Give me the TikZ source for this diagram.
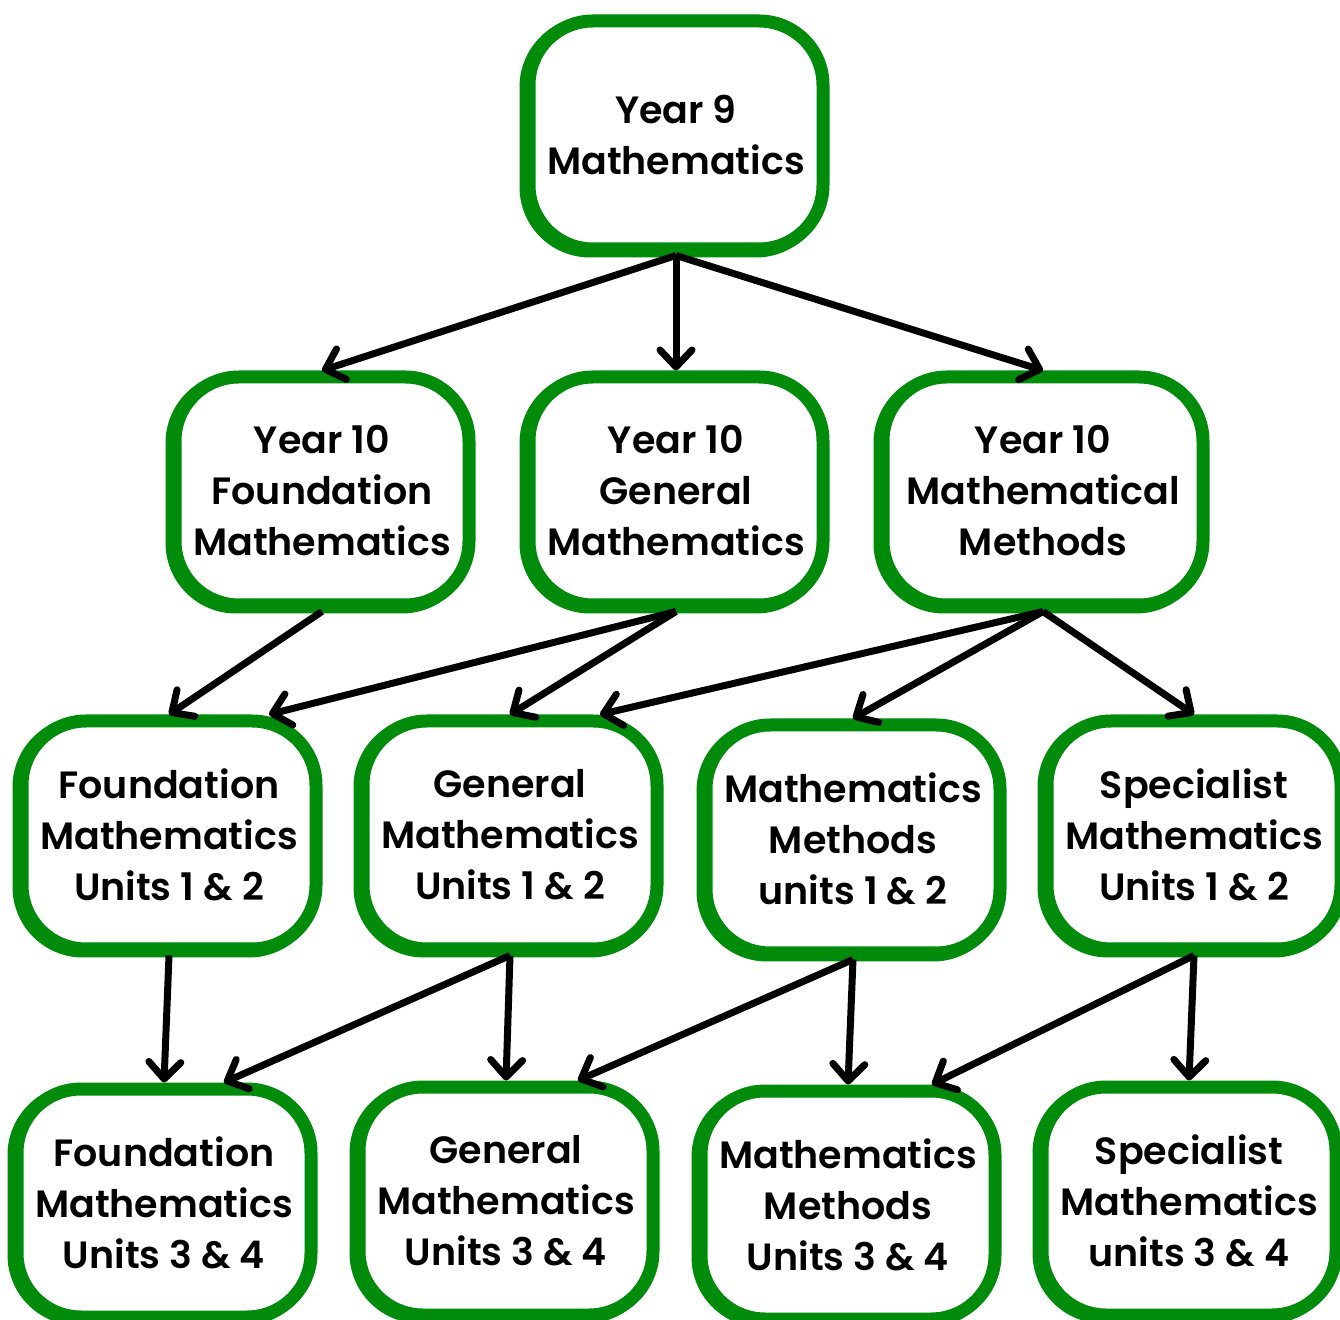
\documentclass[tikz,border=0pt]{standalone}
\usepackage{fontspec}
\setmainfont{Poppins SemiBold}
\usetikzlibrary{arrows.meta,calc}
\definecolor{boxgreen}{RGB}{0,140,10}
\tikzset{
  course/.style={draw=boxgreen, line width=6.5pt, fill=white, rounded corners=32pt,
    preaction={draw=boxgreen, line width=6.5pt, transform canvas={shift={(-1.5pt,-1pt)}}},
    minimum width=147pt, minimum height=114pt, align=center, inner sep=0pt,
    font=\fontsize{19}{25.5}\selectfont},
  wide/.style={minimum width=160pt},
  link/.style={line width=3.5pt, black, -{Straight Barb[length=8.5pt,width=16pt,round]}}
}
\begin{document}
\begin{tikzpicture}[x=0.5pt,y=-0.5pt]
\clip (0,0) rectangle (1340,1320);
\useasboundingbox (0,0) rectangle (1340,1320);
\fill[white] (0,0) rectangle (1340,1320);

\node[course] (y9) at (676,135) {Year 9\\Mathematics};

\node[course] (f10) at (322,491) {Year 10\\Foundation\\Mathematics};
\node[course] (g10) at (676,491) {Year 10\\General\\Mathematics};
\node[course,wide] (m10) at (1043,491) {Year 10\\Mathematical\\Methods};

\node[course] (fu12) at (169,835) {Foundation\\Mathematics\\Units 1 \& 2};
\node[course] (gu12) at (510,835) {General\\Mathematics\\Units 1 \& 2};
\node[course] (mu12) at (853,839) {Mathematics\\Methods\\units 1 \& 2};
\node[course] (su12) at (1194,835) {Specialist\\Mathematics\\Units 1 \& 2};

\node[course] (fu34) at (164,1203) {Foundation\\Mathematics\\Units 3 \& 4};
\node[course] (gu34) at (506,1201) {General\\Mathematics\\Units 3 \& 4};
\node[course] (mu34) at (848,1205) {Mathematics\\Methods\\Units 3 \& 4};
\node[course] (su34) at (1189,1201) {Specialist\\Mathematics\\units 3 \& 4};

\draw[link] (y9.south) -- (f10.north);
\draw[link] (y9.south) -- (g10.north);
\draw[link] (y9.south) -- (m10.north);

\draw[link] (f10.south) -- (fu12.north);
\draw[link] (g10.south) -- ([xshift=50pt]fu12.north);
\draw[link] (g10.south) -- (gu12.north);
\draw[link] (m10.south) -- ([xshift=45pt]gu12.north);
\draw[link] (m10.south) -- (mu12.north);
\draw[link] (m10.south) -- (su12.north);

\draw[link] (fu12.south) -- (fu34.north);
\draw[link] (gu12.south) -- ([xshift=30pt]fu34.north);
\draw[link] (gu12.south) -- (gu34.north);
\draw[link] (mu12.south) -- ([xshift=36pt]gu34.north);
\draw[link] (mu12.south) -- (mu34.north);
\draw[link] (su12.south) -- ([xshift=42pt]mu34.north);
\draw[link] (su12.south) -- (su34.north);
\end{tikzpicture}
\end{document}
